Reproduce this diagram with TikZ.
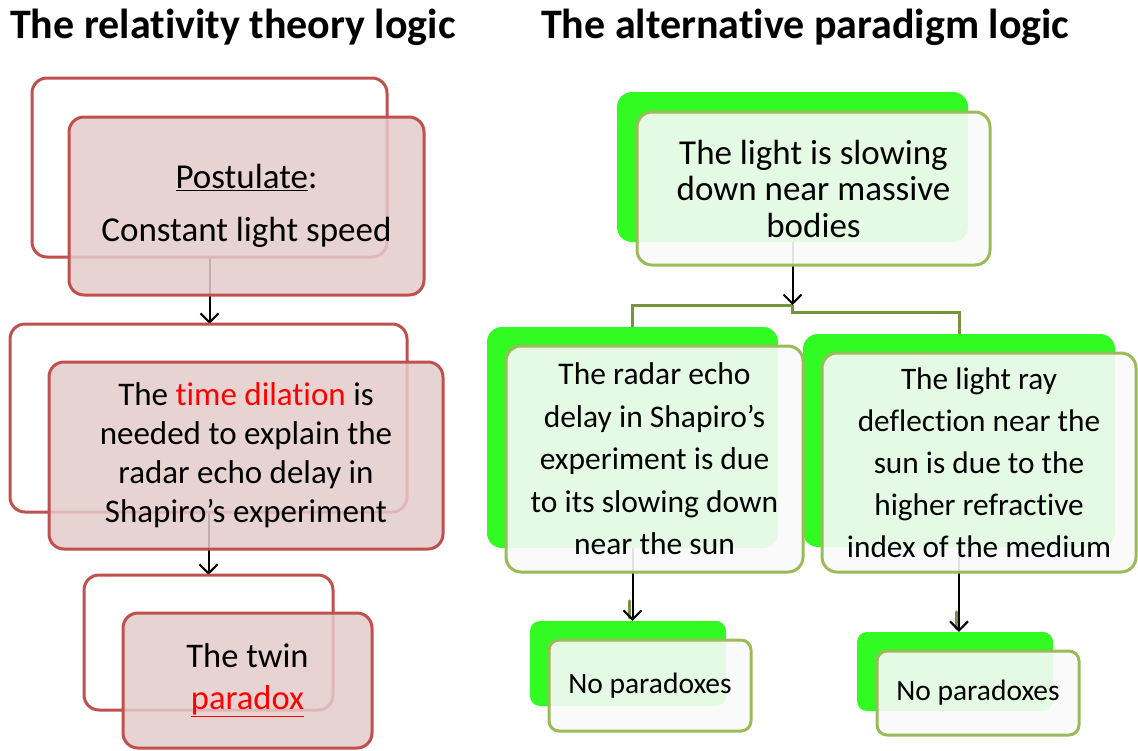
\documentclass[tikz,border=0pt]{standalone}
\usepackage{fontspec}
\setmainfont{Carlito}[Ligatures={NoCommon}]
\usetikzlibrary{arrows.meta}
\definecolor{redline}{RGB}{192,80,77}
\definecolor{pinkfill}{RGB}{228,203,203}
\definecolor{brightgreen}{RGB}{50,250,35}
\definecolor{oliveborder}{RGB}{155,187,89}
\definecolor{olivedark}{RGB}{119,147,60}
\definecolor{txtred}{RGB}{255,0,0}
\definecolor{frontwhite}{RGB}{249,250,249}
\tikzset{
  redback/.style={draw=redline, line width=3pt, rounded corners=15pt, inner sep=0pt},
  redfront/.style={draw=redline, line width=3pt, rounded corners=15pt, fill=pinkfill, fill opacity=0.85, text opacity=1, inner sep=0pt, align=center},
  greenback/.style={fill=brightgreen, rounded corners=15pt, inner sep=0pt},
  greenfront/.style={draw=oliveborder, line width=3pt, rounded corners=15pt, fill=frontwhite, fill opacity=0.9, text opacity=1, inner sep=0pt, align=center},
  arr/.style={-{Straight Barb[length=9pt,width=18pt]}, line width=2pt, black},
  oline/.style={draw=olivedark, line width=3pt},
  titletext/.style={anchor=base west, inner sep=0pt, font=\fontsize{42}{50}\selectfont\bfseries},
}
\begin{document}
\begin{tikzpicture}[x=1pt,y=-1pt]
\useasboundingbox (0,0) rectangle (1138,750);
% titles
\node[titletext] (t1) at (10,38) {The relativity theory logic};
\node[titletext] (t2) at (541,38) {The alternative paradigm logic};
% ---------- left column: positions of the back boxes (for arrows)
\path (209.5,167.5) coordinate (cb1) (208.5,418) coordinate (cb2) (208.5,642.5) coordinate (cb3);
\node[minimum width=355pt, minimum height=179pt, inner sep=0pt] (back1pos) at (cb1) {};
\node[minimum width=397pt, minimum height=188pt, inner sep=0pt] (back2pos) at (cb2) {};
\node[minimum width=249pt, minimum height=135pt, inner sep=0pt] (back3pos) at (cb3) {};
\draw[arr] (back1pos.south) -- (back1pos.south |- back2pos.north);
\draw[arr] (back2pos.south) -- (back2pos.south |- back3pos.north);
% box 1
\node[redback, minimum width=355pt, minimum height=179pt] (back1) at (cb1) {};
\node[redfront, minimum width=355pt, minimum height=178pt,
      font=\fontsize{35}{42}\selectfont] (front1) at (246.5,206)
      {\underline{Postulate}:\\[11pt]Constant light speed};
% box 2
\node[redback, minimum width=397pt, minimum height=188pt] (back2) at (cb2) {};
\node[redfront, minimum width=394pt, minimum height=187pt,
      font=\fontsize{33}{39}\selectfont] (front2) at (246,455.5)
      {The {\color{txtred}time dilation} is\\needed to explain the\\radar echo delay in\\Shapiro’s experiment};
% box 3
\node[redback, minimum width=249pt, minimum height=135pt] (back3) at (cb3) {};
\node[redfront, minimum width=249pt, minimum height=135pt,
      font=\fontsize{34.5}{42}\selectfont] (front3) at (247.5,680.5)
      {The twin\\{\color{txtred}\underline{paradox}}};
% ---------- right column
\node[greenback, minimum width=351pt, minimum height=150pt] (backA) at (792.5,167) {};
\node[greenback, minimum width=291pt, minimum height=221pt] (backB) at (632.5,437.5) {};
\node[greenback, minimum width=312pt, minimum height=213pt] (backC) at (959,440.5) {};
\node[greenback, minimum width=196pt, minimum height=85pt, rounded corners=10pt] (backD) at (628,663.5) {};
\node[greenback, minimum width=196pt, minimum height=79pt, rounded corners=10pt] (backE) at (955,671.5) {};
\coordinate (junc) at (792.5,305);
% connectors (under the front boxes)
\draw[oline] (backB.north) |- (junc);
\draw[oline] (junc) -- ++(0,7) -| (backC.north);
\draw[arr] (backA.south) -- (junc);
\draw[oline, line cap=round] ([xshift=-3pt,yshift=20pt]backB.south |- backD.north) -- ([xshift=-3pt,yshift=3pt]backB.south |- backD.north);
\draw[arr] (backB.south) -- (backB.south |- backD.north);
\draw[oline, line cap=round] ([xshift=-3pt,yshift=20pt]backC.south |- backE.north) -- ([xshift=-3pt,yshift=3pt]backC.south |- backE.north);
\draw[arr] (backC.south) -- (backC.south |- backE.north);
% front boxes
\node[greenfront, minimum width=353pt, minimum height=153pt,
      font=\fontsize{35}{36.5}\selectfont] (frontA) at (813.5,188.5)
      {The light is slowing\\down near massive\\bodies};
\node[greenfront, minimum width=297pt, minimum height=226pt,
      font=\fontsize{31.5}{42.5}\selectfont] (frontB) at (654.5,459)
      {The radar echo\\delay in Shapiro’s\\experiment is due\\to its slowing down\\near the sun};
\node[greenfront, minimum width=314pt, minimum height=219pt,
      font=\fontsize{31.3}{42}\selectfont] (frontC) at (979,462.5)
      {The light ray\\deflection near the\\sun is due to the\\higher refractive\\index of the medium};
\node[greenfront, minimum width=202pt, minimum height=91pt, rounded corners=10pt,
      font=\fontsize{29.5}{36}\selectfont] (frontD) at (650,685.5) {No paradoxes};
\node[greenfront, minimum width=202pt, minimum height=84pt, rounded corners=10pt,
      font=\fontsize{29.5}{36}\selectfont] (frontE) at (978,693) {No paradoxes};
\end{tikzpicture}
\end{document}
